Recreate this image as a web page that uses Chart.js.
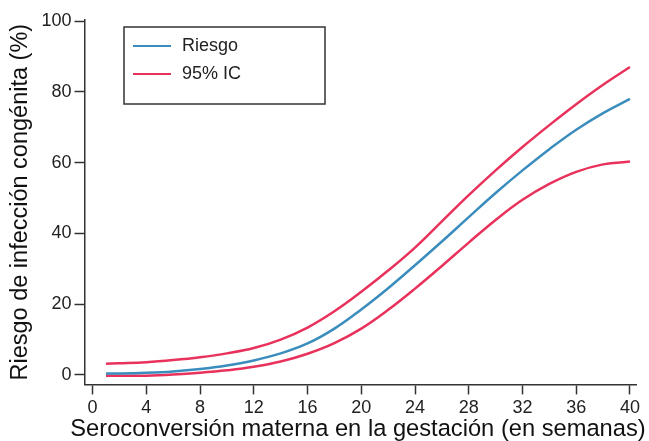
<!DOCTYPE html>
<html>
<head>
<meta charset="utf-8">
<script src="https://cdn.jsdelivr.net/npm/chart.js@4.4.1/dist/chart.umd.min.js"></script>
<style>
  body { margin: 0; background: #fff; }
  canvas { display: block; }
</style>
</head>
<body>
<canvas id="riesgo" width="649" height="441"></canvas>
<script>
// semanas de gestación en que se producen las seroconversiones
const weeks = [1, 2, 4, 6, 8, 10, 12, 14, 16, 18, 20, 22, 24, 26, 28, 30, 32, 34, 36, 38, 40];
const riesgo = [0.4, 0.4, 0.6, 1.0, 1.7, 2.7, 4.1, 6.1, 8.9, 13.1, 18.5, 24.5, 31.0, 37.7, 44.6, 51.4, 57.8, 63.8, 69.3, 74.0, 78.0];
const icSup = [3.2, 3.3, 3.6, 4.2, 5.0, 6.1, 7.6, 10.0, 13.4, 18.0, 23.5, 29.5, 36.0, 43.4, 50.8, 57.8, 64.4, 70.6, 76.5, 82.0, 87.0];
const icInf = [-0.2, -0.2, -0.2, 0.1, 0.6, 1.3, 2.3, 3.8, 6.0, 9.0, 13.1, 18.4, 24.4, 30.8, 37.4, 43.8, 49.5, 54.0, 57.4, 59.5, 60.3];

const xTicks = [0, 4, 8, 12, 16, 20, 24, 28, 32, 36, 40];
const yTicks = [0, 20, 40, 60, 80, 100];
const xTitle = 'Seroconversión materna en la gestación (en semanas)';

const BLUE = '#3b8dbd';
const RED = '#e8325c';
const INK = '#333';
const FONT = "'Liberation Sans', Arial, sans-serif";

function pts(arr) {
  return weeks.map((w, i) => ({ x: w, y: arr[i] }));
}

// leyenda dentro del área del gráfico + título del eje x
// (el título de Chart.js se comprime al ancho del eje, aquí es más ancho)
const extras = {
  id: 'extras',
  afterDraw(chart) {
    const ctx = chart.ctx;
    const items = [
      { text: chart.data.datasets[0].label, color: BLUE },
      { text: chart.data.datasets[1].label, color: RED }
    ];
    ctx.save();
    ctx.fillStyle = '#fff';
    ctx.fillRect(124, 27, 201, 77);
    ctx.strokeStyle = INK;
    ctx.lineWidth = 1.5;
    ctx.strokeRect(124, 27, 201, 77);
    ctx.font = '18px ' + FONT;
    ctx.textBaseline = 'middle';
    items.forEach((it, i) => {
      const y = 46 + i * 28;
      ctx.strokeStyle = it.color;
      ctx.lineWidth = 2;
      ctx.beginPath();
      ctx.moveTo(133, y);
      ctx.lineTo(171, y);
      ctx.stroke();
      ctx.fillStyle = '#222';
      ctx.fillText(it.text, 182, y);
    });

    ctx.font = '23.7px ' + FONT;
    ctx.fillStyle = '#111';
    ctx.textAlign = 'center';
    ctx.fillText(xTitle, 358, 429);
    ctx.restore();
  }
};

const line = {
  borderWidth: 2.5,
  pointRadius: 0,
  fill: false,
  tension: 0.4
};

new Chart(document.getElementById('riesgo'), {
  type: 'line',
  data: {
    datasets: [
      Object.assign({ label: 'Riesgo', data: pts(riesgo), borderColor: BLUE }, line),
      Object.assign({ label: '95% IC', data: pts(icSup), borderColor: RED }, line),
      Object.assign({ label: '95% IC inf', data: pts(icInf), borderColor: RED }, line)
    ]
  },
  options: {
    responsive: false,
    animation: false,
    layout: { padding: { top: 20, right: 13, left: 9, bottom: 19 } },
    plugins: {
      legend: { display: false },
      tooltip: { enabled: false }
    },
    scales: {
      x: {
        type: 'linear',
        min: -0.6,
        max: 40.45,
        afterBuildTicks: s => { s.ticks = xTicks.map(v => ({ value: v })); },
        border: { color: INK, width: 1.5 },
        grid: { drawOnChartArea: false, tickLength: 10, tickColor: INK, tickWidth: 1.5 },
        ticks: { color: '#222', font: { family: FONT, size: 18 }, padding: 3, maxRotation: 0 }
      },
      y: {
        min: -2.67,
        max: 100.3,
        afterBuildTicks: s => { s.ticks = yTicks.map(v => ({ value: v })); },
        border: { color: INK, width: 1.5 },
        grid: { drawOnChartArea: false, tickLength: 10, tickColor: INK, tickWidth: 1.5 },
        ticks: { color: '#222', font: { family: FONT, size: 18 }, padding: 3 },
        title: {
          display: true,
          text: 'Riesgo de infección congénita (%)',
          color: '#111',
          font: { family: FONT, size: 23.5, lineHeight: 1 },
          padding: { top: 0, bottom: 6 }
        }
      }
    }
  },
  plugins: [extras]
});
</script>
</body>
</html>
